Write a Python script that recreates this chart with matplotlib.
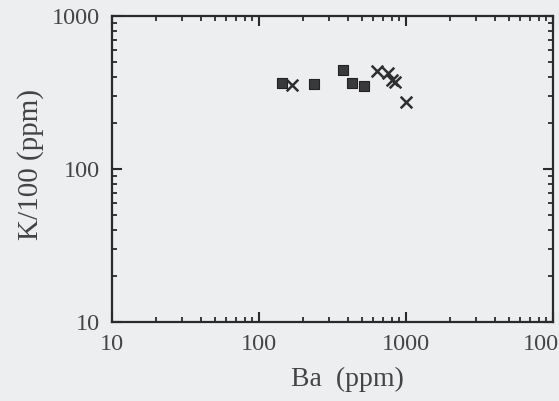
import matplotlib
matplotlib.use("Agg")
import matplotlib.pyplot as plt
from matplotlib.ticker import LogLocator, FixedLocator, NullFormatter

# Data
sq_ba = [143, 235, 375, 432, 520]
sq_k = [365, 360, 444, 365, 349]
x_ba = [167, 630, 760, 800, 840, 1000]
x_k = [355, 440, 425, 380, 372, 274]

xticks = [10, 100, 1000, 10000]
xtick_labels = ["10", "100", "1000", "10000"]
yticks = [10, 100, 1000]
ytick_labels = ["10", "100", "1000"]

bg = "#eceef0"
ink = "#2a2a2a"
txt = "#444444"

plt.rcParams['font.family'] = ['Liberation Serif', 'DejaVu Serif']

fig = plt.figure(figsize=(5.59, 4.01), dpi=100, facecolor=bg)
ax = fig.add_axes([112/559, 1-322/401, (553-112)/559, (322-16)/401], facecolor=bg)

ax.scatter(sq_ba, sq_k, marker='s', s=55, color='#3a3a3a', edgecolors='#222222', linewidths=0.8, zorder=3)
ax.scatter(x_ba, x_k, marker='x', s=70, color='#2e2e2e', linewidths=1.8, zorder=3)

ax.set_xscale('log')
ax.set_yscale('log')
ax.set_xlim(10, 10000)
ax.set_ylim(10, 1000)

ax.xaxis.set_major_locator(FixedLocator(xticks))
ax.set_xticklabels(xtick_labels)
ax.yaxis.set_major_locator(FixedLocator(yticks))
ax.set_yticklabels(ytick_labels)
ax.xaxis.set_minor_locator(LogLocator(base=10, subs=range(2, 10)))
ax.yaxis.set_minor_locator(LogLocator(base=10, subs=range(2, 10)))
ax.xaxis.set_minor_formatter(NullFormatter())
ax.yaxis.set_minor_formatter(NullFormatter())

ax.tick_params(which='both', direction='in', top=True, right=True, colors=ink, labelcolor=txt)
ax.tick_params(which='major', length=7, width=1.5, labelsize=17.5)
ax.tick_params(axis='x', which='major', pad=9)
ax.tick_params(axis='y', which='major', pad=9)
ax.tick_params(which='minor', length=3.5, width=1.3)

for s in ax.spines.values():
    s.set_linewidth(1.6)
    s.set_color(ink)

ax.set_xlabel("Ba  (ppm)", fontsize=20, color=txt)
ax.xaxis.set_label_coords((347-112)/441, (322-367)/306)
ax.set_ylabel("K/100 (ppm)", fontsize=21, color=txt)
ax.yaxis.set_label_coords((44-112)/441, (322-165)/306)

fig.savefig("out.png", dpi=100, facecolor=bg)
